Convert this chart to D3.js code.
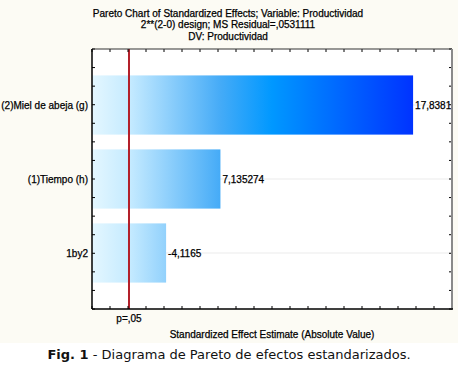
<!DOCTYPE html>
<html lang="en">
<head>
<meta charset="utf-8">
<title>Pareto chart of standardized effects</title>
<script src="https://cdn.jsdelivr.net/npm/d3@7"></script>
<style>
  body { margin: 0; background: #ffffff; }
  text { font-family: "Liberation Sans", Arial, sans-serif; fill: #000; stroke: #000; stroke-width: 0.25px; }
  .caption { font-family: "DejaVu Sans", Verdana, sans-serif; font-size: 13px; stroke: none; fill: #111; }
</style>
</head>
<body>
<script>
// chart values
const factors = ["(2)Miel de abeja (g)", "(1)Tiempo (h)", "1by2"];
const effects = [17.83818, 7.135274, -4.1165];
const effectLabels = ["17,83818", "7,135274", "-4,1165"];
const pCrit = 2.0555;
const pLabel = "p=,05";
const titleLines = [
  "Pareto Chart of Standardized Effects; Variable: Productividad",
  "2**(2-0) design; MS Residual=,0531111",
  "DV: Productividad"
];
const xTitle = "Standardized Effect Estimate (Absolute Value)";

var w = 458, h = 368;
var pLeft = 92, pRight = 452, pTop = 49, pBottom = 309;

var svg = d3.select("body").append("svg")
  .attr("width", w).attr("height", h);

// cream background of the chart image, white caption strip
svg.append("rect").attr("width", w).attr("height", 343).attr("fill", "#fcfbf4");

var xScale = d3.scaleLinear().domain([0, 20]).range([pLeft, pRight]);
var yScale = d3.scaleBand().domain(factors).range([pTop, pBottom])
  .paddingInner(0.2).paddingOuter(0.357);
// minor tick positions on the vertical axes
var yTicks = d3.scaleLinear().domain([0, 14]).range([pTop, pBottom]);

// gradient runs across the plot, same for every bar
var defs = svg.append("defs");
var grad = defs.append("linearGradient").attr("id", "barGrad")
  .attr("gradientUnits", "userSpaceOnUse")
  .attr("x1", xScale(0)).attr("x2", xScale(d3.max(effects, d => Math.abs(d))))
  .attr("y1", 0).attr("y2", 0);
[["0%", "#e4f7ff"], ["12%", "#c4eaff"], ["40%", "#45abf7"], ["56%", "#0098ff"], ["100%", "#0033ff"]]
  .forEach(s => grad.append("stop").attr("offset", s[0]).attr("stop-color", s[1]));

defs.append("clipPath").attr("id", "plotClip").append("rect")
  .attr("x", pLeft).attr("y", pTop).attr("width", pRight - pLeft).attr("height", pBottom - pTop);

// plot area
svg.append("rect").attr("x", pLeft).attr("y", pTop)
  .attr("width", pRight - pLeft).attr("height", pBottom - pTop).attr("fill", "#ffffff");

var plot = svg.append("g").attr("clip-path", "url(#plotClip)");

// faint lines at the category centres
plot.selectAll("line.grid").data(factors).enter().append("line")
  .attr("class", "grid")
  .attr("x1", pLeft).attr("x2", pRight)
  .attr("y1", d => yScale(d) + yScale.bandwidth() / 2)
  .attr("y2", d => yScale(d) + yScale.bandwidth() / 2)
  .attr("stroke", "#ebebeb").attr("stroke-width", 1);

plot.selectAll("rect.bar").data(effects).enter().append("rect")
  .attr("class", "bar")
  .attr("x", xScale(0))
  .attr("y", (d, i) => yScale(factors[i]))
  .attr("width", d => xScale(Math.abs(d)) - xScale(0))
  .attr("height", yScale.bandwidth())
  .attr("fill", "url(#barGrad)");

plot.selectAll("text.val").data(effects).enter().append("text")
  .attr("class", "val")
  .attr("x", d => xScale(Math.abs(d)) + 2)
  .attr("y", (d, i) => yScale(factors[i]) + yScale.bandwidth() / 2 + 4)
  .attr("font-size", "10px")
  .text((d, i) => effectLabels[i]);

// critical value line
svg.append("line")
  .attr("x1", xScale(pCrit)).attr("x2", xScale(pCrit))
  .attr("y1", pTop).attr("y2", pBottom)
  .attr("stroke", "#b3202a").attr("stroke-width", 2);

// ticks, all pointing inward
var xt = d3.range(0, 21);
var yt = d3.range(0, 15);
var ticks = svg.append("g").attr("stroke", "#000");
ticks.selectAll("line.tt").data(xt).enter().append("line").attr("class", "tt")
  .attr("x1", d => xScale(d)).attr("x2", d => xScale(d))
  .attr("y1", pTop).attr("y2", pTop + 3);
ticks.selectAll("line.tb").data(xt).enter().append("line").attr("class", "tb")
  .attr("x1", d => xScale(d)).attr("x2", d => xScale(d))
  .attr("y1", pBottom).attr("y2", pBottom - 3);
ticks.selectAll("line.tl").data(yt).enter().append("line").attr("class", "tl")
  .attr("x1", pLeft).attr("x2", pLeft + 3)
  .attr("y1", d => yTicks(d)).attr("y2", d => yTicks(d));
ticks.selectAll("line.tr").data(yt).enter().append("line").attr("class", "tr")
  .attr("x1", pRight).attr("x2", pRight - 3)
  .attr("y1", d => yTicks(d)).attr("y2", d => yTicks(d));

// frame
svg.append("line").attr("x1", pLeft).attr("x2", pRight).attr("y1", pTop).attr("y2", pTop)
  .attr("stroke", "#333").attr("stroke-width", 1);
svg.append("line").attr("x1", pRight).attr("x2", pRight).attr("y1", pTop).attr("y2", pBottom)
  .attr("stroke", "#8a8a8a").attr("stroke-width", 2);
svg.append("line").attr("x1", pLeft).attr("x2", pRight + 1).attr("y1", pBottom).attr("y2", pBottom)
  .attr("stroke", "#000").attr("stroke-width", 1.5);
svg.append("line").attr("x1", pLeft).attr("x2", pLeft).attr("y1", pTop).attr("y2", pBottom)
  .attr("stroke", "#000").attr("stroke-width", 1.5);

// category labels
svg.selectAll("text.cat").data(factors).enter().append("text")
  .attr("class", "cat")
  .attr("x", pLeft - 4)
  .attr("y", d => yScale(d) + yScale.bandwidth() / 2 + 4)
  .attr("text-anchor", "end").attr("font-size", "10px")
  .text(d => d);

// titles
svg.selectAll("text.title").data(titleLines).enter().append("text")
  .attr("class", "title")
  .attr("x", 228).attr("y", (d, i) => 16.5 + i * 11.7)
  .attr("text-anchor", "middle").attr("font-size", "10px")
  .text(d => d);

svg.append("text").attr("x", xScale(pCrit)).attr("y", 322)
  .attr("text-anchor", "middle").attr("font-size", "10px").text(pLabel);
svg.append("text").attr("x", (pLeft + pRight) / 2).attr("y", 338)
  .attr("text-anchor", "middle").attr("font-size", "10px").text(xTitle);

// figure caption
var cap = svg.append("text").attr("class", "caption")
  .attr("x", 229).attr("y", 359).attr("text-anchor", "middle");
cap.append("tspan").attr("font-weight", "bold").text("Fig. 1");
cap.append("tspan").text(" - Diagrama de Pareto de efectos estandarizados.");
</script>
</body>
</html>
